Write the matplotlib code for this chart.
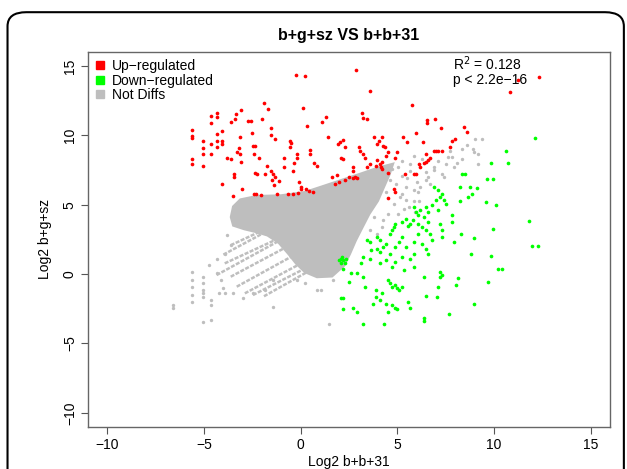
import numpy as np
import matplotlib
matplotlib.use("Agg")
import matplotlib.pyplot as plt
from matplotlib.lines import Line2D
from matplotlib.patches import FancyBboxPatch, Polygon

plt.rcParams['font.family'] = ['Liberation Sans', 'DejaVu Sans']

# ---- data (log2 values) ----
up_x = [-0.23, 0.23, 2.85, 3.58, 10.8, 12.35, 11.25, 5.74, -1.91, -1.7, 0.12, 3.16, 3.22, 3.41,
        1.29, 1.12, 0.35, -5.63, -5.63, -5.63, -5.63, -5.63, -5.07, -5.07, -5.07, -5.07,
        -4.66, -4.66, -4.66, -4.66, -4.35, -4.35, -4.33, -4.33, -4.33, -4.05, -4.05, -4.05, -4.07,
        -3.6, -3.4, -3.35, -3.1, -3.83, -3.6, -3.47, -3.45, -3.49, -3.14, -3.2, -3.14, -3.1, -3.3,
        -3.06, -2.74, -2.56, -2.54, -2.48, -2.35, -2.41, -2.16, -2.37, -2.27, -2.43, -2.31, -2.06,
        -2.02, -1.52, -1.54, -1.31, -1.85, -1.75, -1.54, -1.48, -1.43, -1.33, -1.37, -1.23, -1.12,
        -0.56, -0.48, -0.56, -0.85, -0.85, -0.35, -0.4, -0.19, -0.19, -0.64, -0.4, -0.15,
        -0.08, 0.0, 0.02, 0.46, 0.48, 0.69, 0.85, 0.27, 0.44, 0.64, 1.41, 1.6, 1.89,
        1.95, 2.04, 2.2, 2.3, 2.08, 2.2, 2.68, 2.72, 2.52, 2.68, 2.83, 2.93, 1.79, 2.0, 2.3,
        3.04, 3.08, 3.24, 3.35, 3.8, 3.97, 4.06, 4.2, 4.26, 4.37, 3.45, 3.56, 3.87,
        3.97, 4.08, 4.2, 4.4, 4.5, 4.53, 4.14, 4.2, 4.9, 5.0, 4.5, 4.8, 4.9, 5.3, 5.5, 5.95,
        6.52, 6.52, 6.94, 7.23, 6.3, 7.0, 6.88, 7.1, 7.3, 6.1, 6.15, 6.36, 6.47, 6.57,
        5.4, 5.84, 5.95, 7.7, 7.8, 8.0, 8.45, 8.6, 6.47, 6.67]
up_y = [14.35, 14.3, 14.7, 13.2, 13.1, 14.2, 14.0, 12.15, 12.3, 11.9, 12.0, 11.6, 11.25, 11.15,
        11.3, 10.95, 10.7, 10.4, 9.95, 9.8, 8.3, 7.95, 9.57, 9.1, 8.66, 7.8,
        11.4, 10.9, 9.38, 8.66, 11.6, 11.3, 10.1, 9.6, 9.14, 10.3, 9.6, 9.38, 6.5,
        10.95, 11.2, 11.55, 11.8, 8.4, 8.3, 7.0, 7.2, 5.6, 9.9, 9.1, 8.66, 8.1, 8.8,
        6.1, 11.0, 11.0, 10.2, 9.2, 9.2, 8.66, 8.4, 7.3, 7.2, 5.8, 5.8, 5.67,
        11.15, 10.5, 10.0, 9.75, 7.2, 7.8, 7.4, 6.8, 7.2, 7.0, 6.4, 5.8, 6.7,
        9.57, 9.47, 9.14, 8.37, 7.7, 8.0, 7.46, 8.66, 8.4, 5.8, 5.8, 5.84,
        6.6, 6.3, 6.1, 8.95, 8.66, 8.0, 7.8, 6.1, 6.0, 5.95, 9.86, 7.0, 7.15,
        9.38, 9.5, 9.67, 9.14, 8.4, 8.3, 7.7, 7.46, 7.0, 6.9, 7.0, 6.9, 6.5, 6.67, 6.75,
        9.14, 8.9, 8.66, 8.4, 9.86, 9.38, 9.6, 9.9, 9.26, 9.14, 7.7, 7.94, 7.8,
        8.2, 7.94, 8.06, 8.5, 8.8, 7.3, 7.7, 7.6, 8.4, 8.8, 5.45, 6.15, 5.9, 9.86, 9.5, 10.15,
        11.1, 10.9, 11.2, 10.5, 9.5, 8.9, 8.9, 8.85, 8.85, 7.94, 7.7, 8.0, 8.06, 8.2,
        7.23, 7.18, 7.23, 9.14, 9.6, 9.7, 10.6, 10.26, 8.66, 8.4]

down_x = [12.14, 10.62, 10.73, 9.83, 9.62, 9.96, 9.13, 8.34, 8.5, 9.58, 10.1, 11.83, 9.96, 8.96,
          11.97, 12.29, 9.83, 10.2, 10.4, 9.69, 8.96, 7.67, 6.36, 6.36, 7.03, 8.13, 8.03, 8.8,
          8.3, 7.92, 7.3, 7.3, 7.2, 7.82, 7.82, 8.24, 8.65, 8.86, 8.24, 8.76,
          6.88, 7.1, 7.3, 7.4, 7.2, 7.5, 7.0, 6.47, 6.57, 6.78, 7.1,
          5.84, 5.95, 6.05, 6.15, 5.8, 6.05, 6.36, 6.57, 5.43, 5.22, 5.53, 5.63,
          4.7, 4.8, 4.9, 4.6, 6.05, 6.26, 6.47, 6.67, 5.84, 6.26, 6.78, 6.47, 6.57,
          5.22, 5.1, 5.43, 4.9, 3.97, 4.08, 4.28, 3.97, 4.39, 3.45, 3.56,
          3.24, 3.14, 3.56, 3.66, 4.08, 4.6, 2.1, 2.2, 2.31, 2.16, 2.06, 2.0, 2.35,
          2.2, 2.62, 2.93, 4.08, 4.39, 4.7, 4.9, 5.22, 5.63, 5.84, 5.32, 5.84, 6.36, 7.2, 7.2,
          4.5, 4.6, 4.7, 4.9, 5.0, 5.1, 5.22, 3.35, 3.87, 4.18, 3.87, 2.52, 3.24,
          2.1, 2.2, 2.2, 2.72, 2.93, 3.24, 3.72, 4.08, 4.39, 4.5, 4.7, 4.9, 5.0, 5.53, 5.63,
          4.33, 6.47, 7.1, 7.3]
down_y = [9.83, 8.9, 8.0, 8.0, 6.87, 6.87, 6.22, 7.2, 7.2, 5.2, 5.0, 3.83, 3.28, 2.63,
          2.03, 2.03, 1.3, 0.33, 0.33, -0.55, -2.15, -2.87, -3.18, -3.35, -1.63, -0.3, -0.8, 1.43,
          2.9, 2.32, 2.68, 3.16, 3.63, 4.23, 3.75, 5.3, 5.55, 5.79, 6.27, 6.27,
          6.27, 6.03, 5.79, 5.31, 5.55, 5.07, 5.31, 4.83, 4.47, 4.95, 4.6,
          4.83, 4.47, 4.23, 4.6, 3.88, 3.63, 4.1, 3.75, 4.0, 3.75, 3.5, 3.63,
          3.16, 3.4, 3.63, 2.92, 2.92, 3.4, 3.16, 2.92, 2.32, 2.2, 2.44, 1.84, 1.48,
          2.68, 2.32, 1.96, 1.96, 2.68, 2.44, 1.96, 1.84, 2.2, 2.44, 2.32,
          1.24, 0.77, 1.12, 1.72, 1.6, 1.48, 1.12, 1.0, 0.77, 1.24, 0.77, 1.0, 1.12,
          0.4, 0.05, 0.05, 0.77, 1.0, 0.53, 0.88, 1.24, 1.12, 1.48, 0.29, 0.53, -0.19, 0.17, -0.19,
          -0.43, -0.67, -0.91, -0.79, -1.03, -1.15, -0.91, -0.91, -1.15, -1.39, -1.63, -0.55, -0.19,
          -1.7, -1.75, -2.54, -2.46, -2.7, -3.59, -2.15, -1.87, -2.15, -2.7, -2.22, -2.46, -2.54, -1.99, -2.46,
          -3.59, -1.58, -0.91, -0.07]

# outline of the dense "Not Diffs" cloud
cloud_x = [-3.56, -3.45, -3.1, -2.27, -1.02, 0.23, 1.06, 2.1, 3.14, 3.97, 4.7, 4.55, 4.25, 3.95,
           3.5, 3.15, 2.8, 2.5, 2.2, 1.6, 0.85, 0.25, -0.2, -0.6, -1.1, -1.7, -2.3, -2.9, -3.45]
cloud_y = [4.11, 4.83, 5.31, 5.55, 5.6, 5.84, 6.22, 6.7, 7.18, 7.58, 7.85, 7.22, 6.27, 5.31,
           4.35, 3.4, 2.44, 1.48, 0.65, -0.1, -0.15, 0.2, 0.8, 1.5, 2.3, 2.85, 3.1, 3.3, 3.55]

# low-count streaks below the cloud
streak_x0 = [-3.62, -3.93, -3.62, -3.31, -2.89, -2.47, -4.35, -4.0, -1.9]
streak_y0 = [2.08, 0.77, -0.19, -0.91, -1.39, -1.51, -0.07, 1.4, -1.6]
streak_x1 = [-1.02, -0.6, -0.4, -0.19, 0.02, 0.23, -1.22, -1.6, 0.4]
streak_y1 = [3.76, 2.92, 2.2, 1.48, 0.77, 0.41, 2.32, 3.2, 0.2]

# scattered non-significant genes
gray_x = [9.02, 9.38, 8.34, 8.96, 9.17, 7.61, 7.09, 7.5, 7.92, 6.26, 5.84, 5.63, 6.88, 7.3, 6.47,
          6.67, 6.15, 5.84, 5.43, 5.22, 5.11, 5.43, 5.32, 5.01, 4.8, 4.49, 4.28, 4.18, 3.97,
          6.05, 6.47, 5.22, 5.63, 5.01, 5.22, 4.7, 9.17, 8.34, 7.82, 5.6, 6.1, 5.85,
          7.4, 8.1, 8.6, 6.9, 6.0, 5.5, 4.95, 4.6, 4.4, 3.8, 3.6, 5.9, 6.6, 7.7, 8.9,
          -5.63, -5.63, -5.63, -5.63, -5.63, -5.07, -5.07, -5.07, -5.07, -5.07, -5.07,
          -4.66, -4.66, -4.66, -6.63, -6.63, -4.76, -4.35, -3.93, -3.62, -3.83,
          -4.14, -4.03, -3.93, -4.35, -4.24, -3.51, -2.99, -2.47, -1.85, -1.43, -1.43,
          1.48, 0.85, 1.06, 1.68, -0.19, 0.23]
gray_y = [9.74, 9.74, 9.02, 8.78, 8.66, 8.42, 8.18, 7.94, 7.7, 8.3, 8.54, 7.94, 7.7, 7.22, 6.75,
          6.5, 6.27, 6.03, 6.27, 5.79, 5.55, 5.31, 4.71, 4.35, 5.07, 4.35, 3.88, 3.4, 2.92,
          5.91, 7.34, 7.1, 7.46, 7.7, 8.18, 7.58, 7.94, 8.3, 8.42, 4.85, 5.3, 5.3,
          7.0, 8.0, 9.3, 7.5, 6.6, 6.9, 6.5, 6.8, 5.9, 4.1, 3.2, 4.5, 7.0, 8.9, 9.0,
          0.17, -0.43, -0.91, -1.51, -1.99, -0.19, -0.67, -1.15, -1.39, -1.63, -3.42,
          -1.87, -2.22, -3.3, -2.22, -2.46, 0.65, 1.12, 1.48, 2.08, 2.8,
          -0.43, -1.03, -1.39, 0.05, -1.39, -1.39, -1.75, -1.39, -1.15, -0.43, -2.34,
          -3.59, -1.15, -1.15, -0.43, -0.43, -0.67]

legend_labels = ["Up\u2212regulated", "Down\u2212regulated", "Not Diffs"]
col_up, col_down, col_gray = "#FF0000", "#00FF00", "#BEBEBE"

# ---- figure ----
fig = plt.figure(figsize=(6.27, 4.69), dpi=100)
ax = fig.add_axes([0.1404, 0.0902, 0.8326, 0.7988])

ax.add_patch(Polygon(np.column_stack([cloud_x, cloud_y]), closed=True,
                     facecolor=col_gray, edgecolor=col_gray, linewidth=3, zorder=2))
for x0, y0, x1, y1 in zip(streak_x0, streak_y0, streak_x1, streak_y1):
    ax.plot([x0, x1], [y0, y1], color=col_gray, lw=1.8, linestyle=(0, (1.6, 0.6)), zorder=2)
ax.scatter(gray_x, gray_y, s=6, color=col_gray, linewidths=0, zorder=2)
ax.scatter(up_x, up_y, s=7, color=col_up, linewidths=0, zorder=3)
ax.scatter(down_x, down_y, s=7, color=col_down, linewidths=0, zorder=3)

ax.set_xlim(-11, 16)
ax.set_ylim(-11, 16)
ax.set_xticks([-10, -5, 0, 5, 10, 15])
ax.set_yticks([-10, -5, 0, 5, 10, 15])
ax.set_xticklabels(["\u221210", "\u22125", "0", "5", "10", "15"])
ax.set_yticklabels(["\u221210", "\u22125", "0", "5", "10", "15"], rotation=90, va='center')
ax.tick_params(labelsize=10, length=5, color='#555555', pad=3)
for sp in ax.spines.values():
    sp.set_color('#666666')
    sp.set_linewidth(1.0)

ax.set_xlabel("Log2 b+b+31", fontsize=10, labelpad=2)
ax.set_ylabel("Log2 b+g+sz", fontsize=10, labelpad=8)
ax.set_title("b+g+sz VS b+b+31", fontsize=11.5, fontweight='bold', pad=9)

handles = [Line2D([], [], marker='s', linestyle='none', markersize=5.5, color=c)
           for c in (col_up, col_down, col_gray)]
ax.legend(handles, legend_labels, loc='upper left', frameon=False, fontsize=10,
          handlelength=0.8, handletextpad=0.5, labelspacing=0.05,
          borderaxespad=0.5, bbox_to_anchor=(-0.012, 1.015))

ax.text(0.70, 0.968, "R$^2$ = 0.128", transform=ax.transAxes, fontsize=10, va='center')
ax.text(0.70, 0.926, "p < 2.2e\u221216", transform=ax.transAxes, fontsize=10, va='center')

# rounded outer frame of the panel
fig.patches.append(FancyBboxPatch((0.02, -0.05), 0.967, 1.016,
                                  boxstyle="round,pad=0.008,rounding_size=0.03",
                                  transform=fig.transFigure, fill=False,
                                  edgecolor='black', linewidth=1.5))

fig.savefig("out.png", dpi=100)
